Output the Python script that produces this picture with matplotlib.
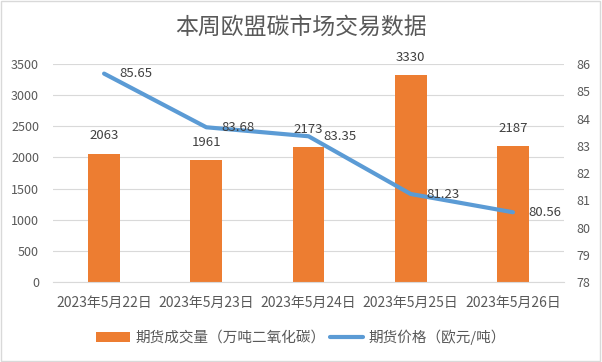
import matplotlib
matplotlib.use('Agg')
import matplotlib.pyplot as plt
import numpy as np
from matplotlib.patches import Rectangle

plt.rcParams['font.family'] = ['Noto Sans CJK SC', 'DejaVu Sans']

# data
dates = ['2023年5月22日', '2023年5月23日', '2023年5月24日', '2023年5月25日', '2023年5月26日']
volume = [2063, 1961, 2173, 3330, 2187]
price = [85.65, 83.68, 83.35, 81.23, 80.56]

orange = '#ED7D31'
blue = '#5B9BD5'
grey_txt = '#595959'
grid_c = '#D9D9D9'

fig = plt.figure(figsize=(6.02, 3.62), dpi=100)
ax = fig.add_axes([0.088, 0.221, 0.849, 0.602])
ax2 = ax.twinx()

x = np.arange(len(dates))
ax.bar(x, volume, width=0.31, color=orange, zorder=2, label='期货成交量（万吨二氧化碳）')
for xi, v in zip(x, volume):
    ax.annotate(str(v), (xi, v), xytext=(0, 8), textcoords='offset points',
                ha='center', va='bottom', fontsize=9.5, color='#404040')

ax2.plot(x, price, color=blue, linewidth=3, solid_capstyle='round',
         label='期货价格（欧元/吨）')
for xi, p in zip(x, price):
    ax2.annotate('%.2f' % p, (xi, p), xytext=(11, 0), textcoords='offset points',
                 ha='left', va='center', fontsize=9.5, color='#404040')

ax.set_xlim(-0.5, len(dates) - 0.5)
ax.set_ylim(0, 3500)
ax.set_yticks(np.arange(0, 3501, 500))
ax2.set_ylim(78, 86)
ax2.set_yticks(np.arange(78, 87, 1))
ax.set_xticks(x)
ax.set_xticklabels(dates, fontsize=10)

ax.yaxis.grid(True, color=grid_c, linewidth=0.8, zorder=0)
ax.set_axisbelow(True)
for a in (ax, ax2):
    for s in a.spines.values():
        s.set_visible(False)
    a.tick_params(length=0, labelsize=9, colors=grey_txt)
ax.tick_params(axis='x', labelsize=10, pad=10)
ax.spines['bottom'].set_visible(True)
ax.spines['bottom'].set_color(grid_c)
ax.tick_params(axis='y', pad=10)
ax2.tick_params(axis='y', pad=9)

fig.text(0.5, 0.925, '本周欧盟碳市场交易数据', ha='center', va='center',
         fontsize=16.5, color=grey_txt)

h1, l1 = ax.get_legend_handles_labels()
h2, l2 = ax2.get_legend_handles_labels()
fig.legend(h1 + h2, l1 + l2, loc='center', bbox_to_anchor=(0.5, 0.069), ncol=2,
           frameon=False, fontsize=10.5, labelcolor=grey_txt, handlelength=2.3,
           handletextpad=0.35, columnspacing=0.3)

fig.patches.append(Rectangle((0.002, 0.003), 0.995, 0.993, transform=fig.transFigure,
                             fill=False, edgecolor=grid_c, linewidth=1))

fig.savefig('out.png', dpi=100)
